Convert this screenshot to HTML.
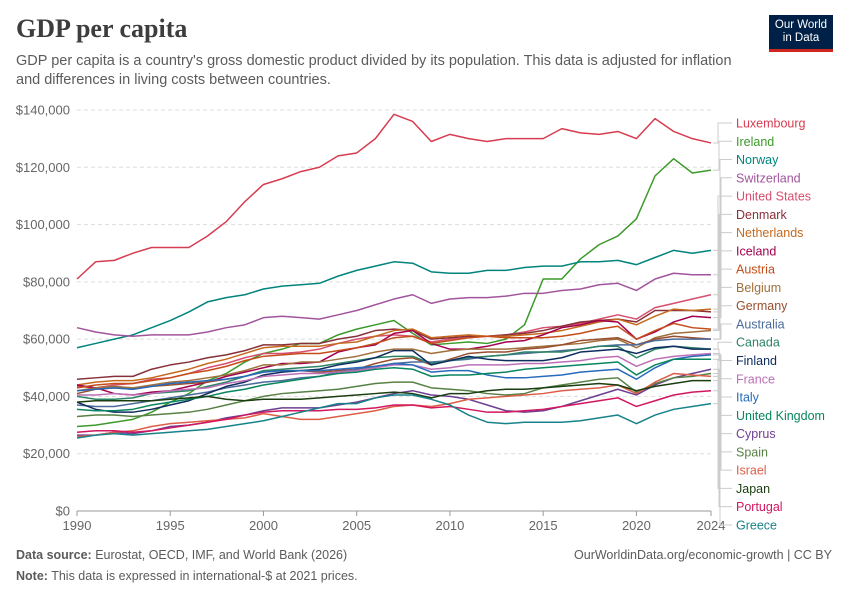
<!DOCTYPE html>
<html><head><meta charset="utf-8"><style>
body{margin:0;width:850px;height:600px;background:#fff;font-family:"Liberation Sans",sans-serif;overflow:hidden;position:relative}
.t{position:absolute}
</style></head><body>
<div class="t" style="left:16px;top:14px;font-family:'Liberation Serif',serif;font-size:26px;font-weight:bold;color:#3d3d3d">GDP per capita</div>
<div class="t" style="left:16px;top:52px;width:740px;font-size:14.5px;line-height:19px;color:#5b5b5b">GDP per capita is a country's gross domestic product divided by its population. This data is adjusted for inflation and differences in living costs between countries.</div>
<div class="t" style="left:769px;top:15px;width:64px;height:37px;background:#002147;border-bottom:3px solid #ce261e;color:#fff;font-size:11.5px;line-height:13px;text-align:center;padding-top:4px;box-sizing:border-box">Our World<br>in Data</div>
<svg id="c" class="t" style="left:0;top:0" width="850" height="600"></svg>
<div class="t" style="left:16px;top:548px;font-size:12.5px;color:#5b5b5b"><b>Data source:</b> Eurostat, OECD, IMF, and World Bank (2026)</div>
<div class="t" style="right:18px;top:548px;font-size:12.5px;color:#5b5b5b">OurWorldinData.org/economic-growth | CC BY</div>
<div class="t" style="left:16px;top:569px;font-size:12.5px;color:#5b5b5b"><b>Note:</b> This data is expressed in international-$ at 2021 prices.</div>
<script>
const years=[];for(let y=1990;y<=2024;y++)years.push(y);
const yTicks=[0,20000,40000,60000,80000,100000,120000,140000];
const xTicks=[1990,1995,2000,2005,2010,2015,2020,2024];
const names=["Luxembourg","Ireland","Norway","Switzerland","United States","Denmark","Netherlands","Iceland","Austria","Belgium","Germany","Australia","Canada","Finland","France","Italy","United Kingdom","Cyprus","Spain","Israel","Japan","Portugal","Greece"];
const colors=["#d73c50","#3c9a2a","#00847e","#a2559c","#d64f6e","#883039","#c66a1e","#a2004f","#c44d1a","#a0703c","#994e2e","#4c6a9c","#2c8465","#0f2c60","#bc6fb8","#286bbb","#098560","#6d3e91","#578145","#dc5e48","#1a3e0f","#d2165f","#18828a"];
const luxembourg=[81,87,87.5,90,92,92,92,96,101,108,114,116,118.5,120,124,125,130,138.5,136,129,131.5,130,129,130,130,130,133.5,132,131.5,132.5,130,137,132.5,130,128.5];
const ireland=[29.5,30,31,32,34.5,38,41,45.5,48,52,55,56.5,58.5,58.5,61.5,63.5,65,66.5,62,58,58.5,59,58.5,60,65,81,81,88,93,96,102,117,123,118,119];
const norway=[57,58.5,60,61.5,64,66.5,69.5,73,74.5,75.5,77.5,78.5,79,79.5,82,84,85.5,87,86.5,83.5,83,83,84,84,85,85.5,85.5,87,87,87.5,86,88.5,91,90,91];
const switzerland=[64,62.5,61.5,61,61.5,61.5,61.5,62.5,64,65,67.5,68,67.5,67,68.5,70,72,74,75.5,72.5,74,74.5,74.5,75,76,76,77,77.5,79,79.5,77,81,83,82.5,82.5];
const unitedStates=[43.5,43,44,44.5,46,46.5,48,50,51.5,53.5,55,55,55.5,56.5,58.5,60,61,61.5,61,59,60,60.5,61,61.5,62.5,64,64.5,65.5,67,68.5,67,71,72.5,74,75.5];
const denmark=[46,46.5,47,47,49.5,51,52,53.5,54.5,56,58,58,58.5,58.5,60,61,63,63.5,63,60,60.5,61,61,61.5,62,63,64.5,66,66.5,67,66,70,70,70,69.5];
const netherlands=[44,45,45.5,45.5,46.5,48,49.5,51.5,53,55,57,57.5,57.5,57.5,58.5,59,61,63,63.5,60.5,61,61.5,61,61,61.5,62,63,64.5,66,67,65,68,70.5,70,70.5];
const iceland=[44,43,41,40.5,41.5,42,43.5,45,47,48.5,50,51.5,51.5,52,55.5,57,58,62,63,58.5,56.5,56.5,57.5,59,59.5,61.5,64,65,66.5,66,60,62.5,66,68,67.5];
const austria=[43,44,44.5,44.5,45.5,46.5,48,49,50.5,52.5,54,54.5,55,55,56,57,58.5,60.5,61,58.5,59.5,60.5,61,60.5,60.5,60.5,61,62,63.5,64.5,60,63,65.5,64,63.5];
const belgium=[42,43,43.5,43,44,45,45.5,46.5,47.5,49,51,51,52,52,53,54,55.5,56.5,56.5,55,56,56.5,56.5,56.5,57,57.5,58,58.5,59.5,60,57,60.5,62,62.5,63];
const germany=[41,42.5,43,42.5,43.5,44,44.5,45,46,47,48.5,49,49,48.5,49,49.5,51.5,53,53.5,51,53,55,55.5,55.5,56.5,57,58,59.5,60,60.5,58,60,61,60.5,60];
const australia=[37,36.5,36.5,37.5,38.5,39.5,40.5,41.5,43,44,45,45.5,46.5,47,48.5,49.5,50.5,51.5,52,52,52.5,53,54,54.5,55,55.5,56,56.5,57.5,58,58,59.5,60,60,60];
const canada=[40,39,39,39.5,41,41.5,42,43.5,45,47,49,49.5,50,50.5,51.5,52.5,53.5,54,54,51.5,52.5,53.5,54,54.5,55.5,55.5,55.5,56.5,57.5,57.5,53.5,56.5,57.5,57,56.5];
const finland=[38,35.5,34.5,34.5,35.5,37,38.5,41,43.5,45,47.5,48.5,49,49.5,51,52,53.5,56,56,51,52.5,54,53,52.5,52.5,52.5,53.5,55.5,56,56.5,55,57,57.5,56.5,56.5];
const france=[40.5,40.5,41,40.5,41,42,42.5,43,44.5,45.5,47,47.5,48,48,48.5,49,50,51,51,49.5,50,51,51,51,51.5,51.5,52,52.5,53.5,54,50.5,53,54,54.5,55];
const italy=[42,42.5,43,42.5,43.5,44.5,45,45.5,46,47,48.5,49,49,49,49.5,50,50.5,51.5,51,48.5,49,49,47.5,46.5,46.5,47,47.5,48.5,49,49.5,46,50,53,54,54.5];
const unitedKingdom=[35.5,35,35,35.5,37,38,39,40,41.5,42.5,44,45,46,47,48,48.5,49.5,50,49.5,47,47.5,47.5,48,48.5,49.5,50,50.5,51,51.5,52,47.5,51,53,53,53];
const cyprus=[26.5,26.5,27.5,27,28,29.5,30,31,32.5,33.5,35,36,36,36,37,38,39.5,41,42,40.5,40,39,37,35,34.5,35,36.5,38.5,40.5,42.5,40.5,44,46.5,48,49.5];
const spain=[33,33.5,33.5,33,33.5,34,34.5,35.5,37,38.5,40,41,41.5,42,42.5,43.5,44.5,45,45,43,42.5,42,41,40.5,41,43,44,45,46,46.5,41.5,44.5,46.5,47,48];
const israel=[26,26.5,27.5,28,29.5,30.5,31,31.5,32,32.5,34,33,32,32,33,34,35,36.5,37,36.5,37.5,39,39.5,40,40.5,41,42,42.5,43,44,41,45,48,47.5,47];
const japan=[38,38.5,38.5,38.5,38.5,39,39.5,40,39,38.5,39,39,39,39.5,40,40.5,41,41.5,41,39.5,41,41,42,42.5,42.5,43,43.5,44,44.5,44,42,43.5,44.5,45.5,45.5];
const portugal=[27.5,28,28,27.5,28,29,30,31,32,33.5,34.5,35,35,35,35.5,35.5,36,37,37,36,36.5,35.5,34.5,34.5,35,35.5,36.5,37.5,38.5,39.5,36.5,38.5,40.5,41.5,42];
const greece=[25.5,26.5,27,26.5,27,27.5,28,28.5,29.5,30.5,31.5,33,34.5,36,37.5,37.5,39.5,40.5,40.5,39,37,33.5,31,30.5,31,31,31,31.5,32.5,33.5,30.5,33.5,35.5,36.5,37.5];
const series=[luxembourg,ireland,norway,switzerland,unitedStates,denmark,netherlands,iceland,austria,belgium,germany,australia,canada,finland,france,italy,unitedKingdom,cyprus,spain,israel,japan,portugal,greece];

const svg=document.getElementById('c');const NS="http://www.w3.org/2000/svg";
const X=y=>77+(y-1990)*(711-77)/34;
const Y=v=>511-v*(511-110)/140000;
function mk(t,a){const e=document.createElementNS(NS,t);for(const k in a)e.setAttribute(k,a[k]);svg.appendChild(e);return e;}
yTicks.forEach(v=>{
  const g=mk('line',{x1:77,x2:711,y1:Y(v),y2:Y(v),stroke:v?'#ddd':'#999','stroke-dasharray':v?'4,3':''});
  
  
  const t=mk('text',{x:70,y:Y(v)+4.5,'text-anchor':'end','font-size':'13','fill':'#666','font-family':'Liberation Sans'});
  t.textContent='$'+v.toLocaleString('en-US');
  
  
});
xTicks.forEach(yr=>{
  const l=mk('line',{x1:X(yr),x2:X(yr),y1:511,y2:516,stroke:'#999'});
  
  
  const t=mk('text',{x:X(yr),y:530,'text-anchor':'middle','font-size':'13','fill':'#666','font-family':'Liberation Sans'});
  t.textContent=yr;
  
  
});
series.forEach((s,i)=>{
  const p=mk('polyline',{points:s.map((v,j)=>X(years[j])+','+Y(v*1000)).join(' '),fill:'none',stroke:colors[i],'stroke-width':'1.5','stroke-linejoin':'round'});
  
  
  const ly=123+i*18.27;const ey=Y(s[s.length-1]*1000);
  const c=mk('path',{d:`M713,${ey} H${718+(i%4)} V${ly} H732`,fill:'none',stroke:'#ccc','stroke-width':'1'});
  
  
  const t=mk('text',{x:736,y:ly+4.5,'font-size':'12.5','fill':colors[i],'font-family':'Liberation Sans'});
  t.textContent=names[i];
  
  
});
</script>
</body></html>
